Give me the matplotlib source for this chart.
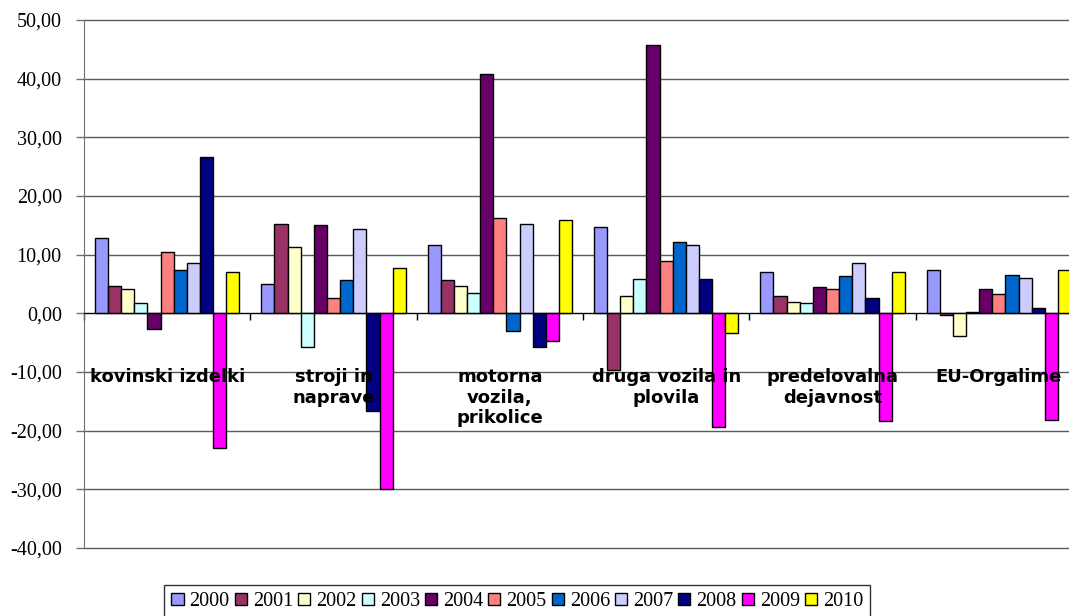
import numpy as np
from matplotlib import pyplot as plt
from matplotlib.patches import Patch

# kategorije in leta
categories = ['kovinski izdelki', 'stroji in\nnaprave', 'motorna\nvozila,\nprikolice',
              'druga vozila in\nplovila', 'predelovalna\ndejavnost', 'EU-Orgalime']
years = ['2000', '2001', '2002', '2003', '2004', '2005', '2006', '2007', '2008', '2009', '2010']

# vrednosti po letih (za vsako kategorijo)
v2000 = [12.8, 5.0, 11.6, 14.7, 7.1, 7.4]
v2001 = [4.7, 15.3, 5.7, -9.7, 2.9, -0.3]
v2002 = [4.2, 11.3, 4.7, 2.9, 2.0, -3.9]
v2003 = [1.8, -5.8, 3.5, 5.9, 1.7, 0.3]
v2004 = [-2.7, 15.0, 40.8, 45.7, 4.5, 4.1]
v2005 = [10.5, 2.6, 16.2, 8.9, 4.1, 3.3]
v2006 = [7.4, 5.7, -3.0, 12.2, 6.3, 6.5]
v2007 = [8.6, 14.4, 15.2, 11.6, 8.6, 6.0]
v2008 = [26.6, -16.7, -5.8, 5.9, 2.6, 0.9]
v2009 = [-23.0, -29.9, -4.8, -19.3, -18.4, -18.1]
v2010 = [7.1, 7.7, 15.9, -3.3, 7.1, 7.4]
values = [v2000, v2001, v2002, v2003, v2004, v2005, v2006, v2007, v2008, v2009, v2010]

colors = ['#9999FF', '#993366', '#FFFFCC', '#CCFFFF', '#660066', '#FF8080',
          '#0066CC', '#CCCCFF', '#000080', '#FF00FF', '#FFFF00']

yticks = [-40, -30, -20, -10, 0, 10, 20, 30, 40, 50]
ytick_labels = ['-40,00', '-30,00', '-20,00', '-10,00', '0,00', '10,00',
                '20,00', '30,00', '40,00', '50,00']

fig = plt.figure(figsize=(10.69, 6.16), dpi=100)
ax = fig.add_axes([0.0786, 0.1104, 0.9336, 0.8571])  # desni rob je odrezan kot v originalu

x = np.arange(len(categories))
width = 0.079
for i, (year, vals) in enumerate(zip(years, values)):
    ax.bar(x + (i - 5) * width, vals, width, color=colors[i], edgecolor='black',
           linewidth=1.0, zorder=3, label=year)

ax.set_xlim(-0.5, len(categories) - 0.5)
ax.set_ylim(-40, 50)

# mreza (robne crte ne smejo biti odrezane)
for t in yticks:
    ax.axhline(t, color='#5a5a5a', linewidth=1.0, zorder=1, clip_on=False)

ax.set_yticks(yticks)
ax.set_yticklabels(ytick_labels, family='Liberation Serif', fontsize=14.5)
ax.tick_params(axis='y', direction='out', length=6, width=1, color='#707070', pad=10)

# kategorijska os na nicli, oznake delitev med skupinami
ax.spines['bottom'].set_position(('data', 0))
ax.spines['bottom'].set_color('black')
ax.spines['bottom'].set_zorder(4)
ax.set_xticks(np.arange(len(categories) + 1) - 0.5)
ax.set_xticklabels([])
ax.tick_params(axis='x', direction='out', length=5, width=1, color='black')

ax.spines['left'].set_color('#707070')
ax.spines['top'].set_visible(False)
ax.spines['right'].set_visible(False)

# imena kategorij
for i, name in enumerate(categories):
    ax.text(i, -9.4, name, ha='center', va='top', fontsize=13, fontweight='bold',
            family='DejaVu Sans', linespacing=1.15, zorder=6)

handles = [Patch(facecolor=c, edgecolor='black', linewidth=1.0) for c in colors]
leg = fig.legend(handles, years, loc='upper center', bbox_to_anchor=(0.484, 0.0503),
                 bbox_transform=fig.transFigure, ncol=11, frameon=True, fancybox=False,
                 borderaxespad=0, handlelength=0.6, handleheight=0.6, handletextpad=0.3,
                 columnspacing=0.25, borderpad=0.35,
                 prop={'family': 'Liberation Serif', 'size': 14.5})
leg.get_frame().set_edgecolor('black')
leg.get_frame().set_linewidth(1.0)

plt.savefig('out.png', dpi=100)
plt.close(fig)
